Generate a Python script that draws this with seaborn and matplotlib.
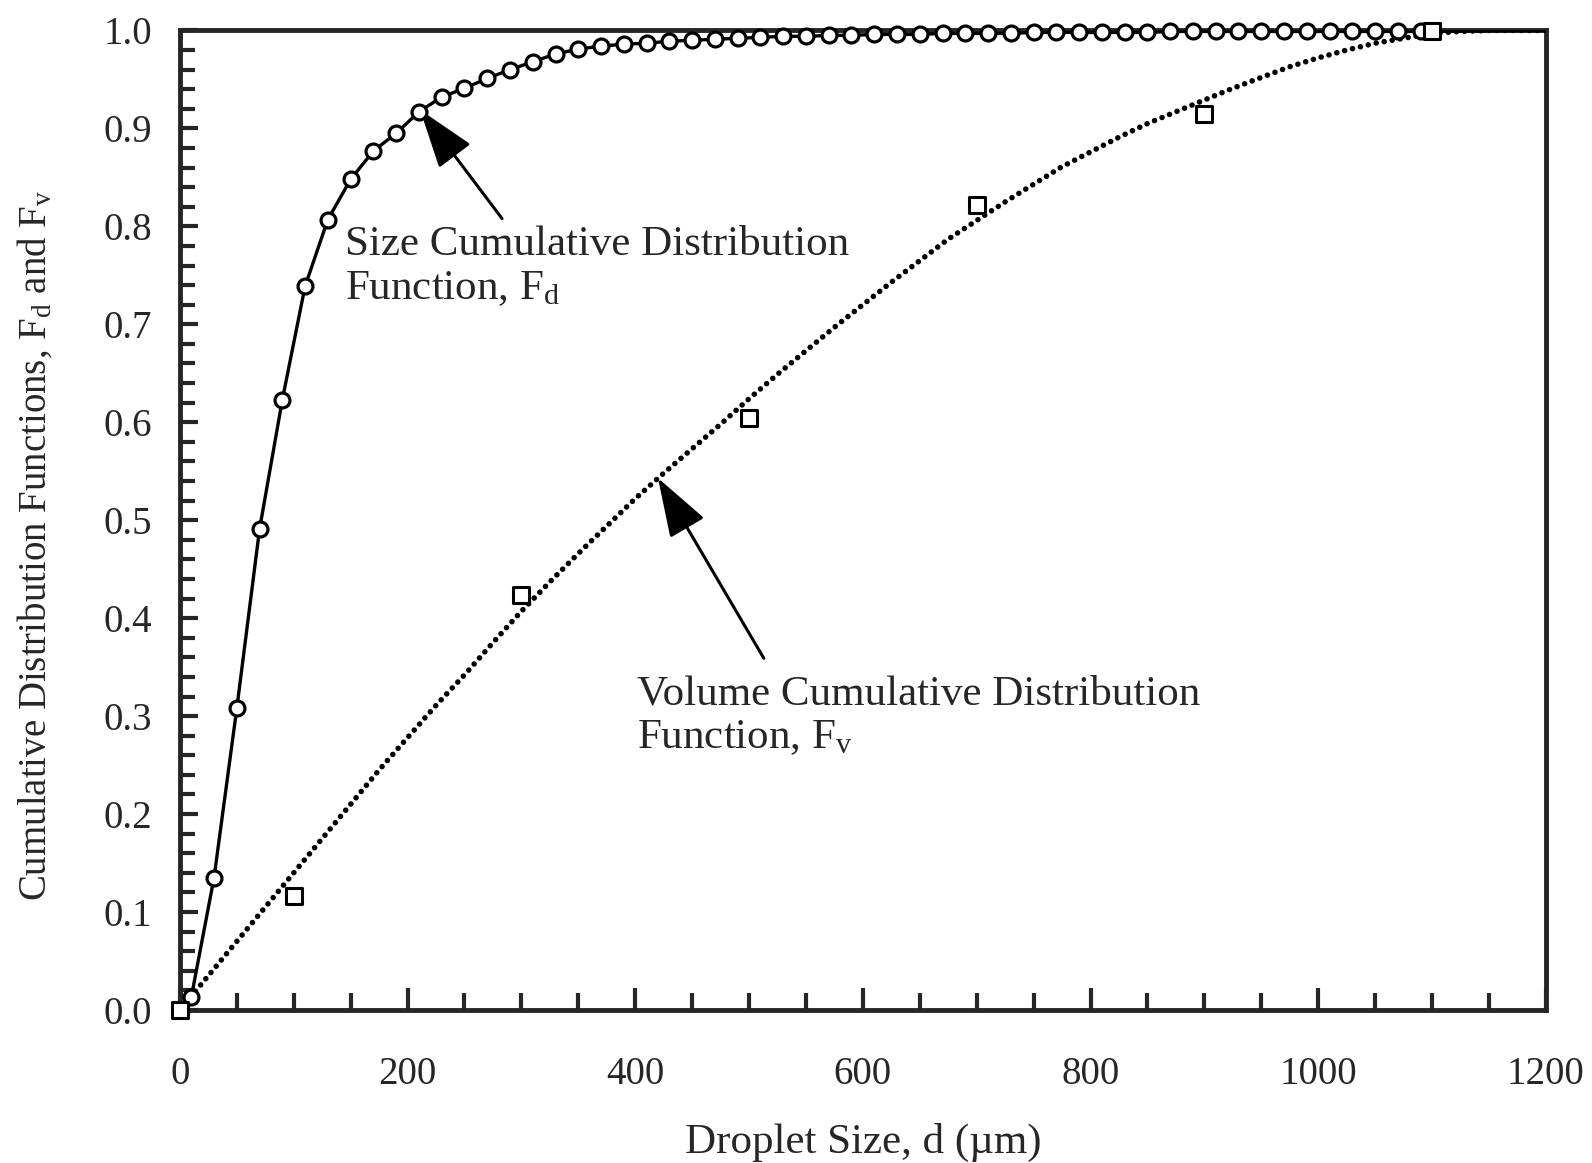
import matplotlib
matplotlib.use("Agg")
import matplotlib.pyplot as plt
import numpy as np
import pandas as pd
import seaborn as sns
from matplotlib.ticker import MultipleLocator

# size cumulative distribution, open circles every 20 um
fd_x = [10, 30, 50, 70, 90, 110, 130, 150, 170, 190, 210, 230, 250, 270, 290,
        310, 330, 350, 370, 390, 410, 430, 450, 470, 490, 510, 530, 550, 570,
        590, 610, 630, 650, 670, 690, 710, 730, 750, 770, 790, 810, 830, 850,
        870, 890, 910, 930, 950, 970, 990, 1010, 1030, 1050, 1070, 1090]
fd_y = [0.013, 0.135, 0.308, 0.491, 0.623, 0.739, 0.807, 0.848, 0.877, 0.895,
        0.917, 0.932, 0.941, 0.951, 0.960, 0.968, 0.976, 0.981, 0.984, 0.986,
        0.987, 0.989, 0.990, 0.991, 0.992, 0.993, 0.994, 0.994, 0.995, 0.995,
        0.996, 0.996, 0.996, 0.997, 0.997, 0.997, 0.997, 0.998, 0.998, 0.998,
        0.998, 0.998, 0.998, 0.999, 0.999, 0.999, 0.999, 0.999, 0.999, 0.999,
        0.999, 0.999, 0.999, 0.999, 0.999]

# volume cumulative distribution curve (dotted)
fv_x = [0, 25, 50, 75, 100, 125, 150, 175, 200, 225, 250, 275, 300, 325, 350,
        375, 400, 425, 450, 475, 500, 525, 550, 575, 600, 625, 650, 675, 700,
        725, 750, 775, 800, 825, 850, 875, 900, 925, 950, 975, 1000, 1025,
        1050, 1075, 1100, 1125, 1150, 1175, 1200]
fv_y = [0.0, 0.035, 0.070, 0.105, 0.140, 0.175, 0.210, 0.245, 0.278, 0.311,
        0.342, 0.375, 0.407, 0.437, 0.466, 0.494, 0.522, 0.548, 0.573, 0.598,
        0.624, 0.649, 0.673, 0.697, 0.720, 0.743, 0.765, 0.787, 0.806, 0.825,
        0.843, 0.861, 0.876, 0.891, 0.905, 0.917, 0.929, 0.941, 0.952, 0.963,
        0.972, 0.980, 0.987, 0.992, 0.997, 0.999, 1.0, 1.0, 1.0]

# measured volume points (open squares)
sq_x = [0, 100, 300, 500, 700, 900, 1100]
sq_y = [0.0, 0.116, 0.424, 0.604, 0.822, 0.915, 0.999]

sns.set_style("ticks")
plt.rcParams['font.family'] = ['Liberation Serif', 'DejaVu Serif']
plt.rcParams['mathtext.fontset'] = 'custom'
plt.rcParams['mathtext.rm'] = 'Liberation Serif'
plt.rcParams['mathtext.it'] = 'Liberation Serif:italic'

fig = plt.figure(figsize=(15.92, 11.63), dpi=100)
ax = fig.add_axes([0.113, 0.1316, 0.858, 0.8422])

fd_line = pd.DataFrame({"d": [0] + fd_x + [1200], "F": [0.0] + fd_y + [1.0]})
sns.lineplot(data=fd_line, x="d", y="F", ax=ax, color="black", lw=2.4,
             zorder=3)
sns.lineplot(x=fv_x, y=fv_y, ax=ax, color="black", lw=4.0, zorder=3)
fv_line = ax.lines[-1]
fv_line.set_linestyle((0, (0.01, 1.45)))
fv_line.set_dash_capstyle("round")

sns.scatterplot(x=fd_x, y=fd_y, ax=ax, marker="o", s=115, facecolor="white",
                edgecolor="black", linewidth=2.3, zorder=4, clip_on=False)
sns.scatterplot(x=sq_x, y=sq_y, ax=ax, marker="s", s=135, facecolor="white",
                edgecolor="black", linewidth=2.2, zorder=5, clip_on=False)

ax.set_xlim(0, 1200)
ax.set_ylim(0, 1.0)
ax.xaxis.set_major_locator(MultipleLocator(200))
ax.xaxis.set_minor_locator(MultipleLocator(50))
ax.yaxis.set_major_locator(MultipleLocator(0.1))
ax.yaxis.set_minor_locator(MultipleLocator(0.02))
ax.yaxis.set_major_formatter(plt.FormatStrFormatter("%.1f"))

ax.tick_params(axis="both", which="both", direction="in", top=False,
               right=False, width=3, labelsize=28)
ax.tick_params(axis="x", which="major", length=16, pad=33)
ax.tick_params(axis="x", which="minor", length=12)
ax.tick_params(axis="y", which="major", length=13, pad=20)
ax.tick_params(axis="y", which="minor", length=11)
for sp in ax.spines.values():
    sp.set_linewidth(3.5)
    sp.set_visible(True)

ax.set_xlabel("Droplet Size, d (\u00b5m)", fontsize=31, labelpad=22)
ax.set_ylabel(r"Cumulative Distribution Functions, F$_\mathrm{d}$ and F$_\mathrm{v}$",
              fontsize=28)
ax.yaxis.set_label_coords(-0.092, 0.474)

arrow = dict(arrowstyle="-|>,head_length=3.7,head_width=1.25", color="black",
             lw=2.2, shrinkA=0, shrinkB=0, mutation_scale=10)
ax.annotate("", xy=(211, 0.919), xytext=(283, 0.808), arrowprops=arrow)
ax.annotate("", xy=(420, 0.543), xytext=(513, 0.359), arrowprops=arrow)

ax.text(145, 0.759, "Size Cumulative Distribution\nFunction, F$_\\mathrm{d}$",
        fontsize=31, va="center", ha="left", linespacing=1.18)
ax.text(402, 0.300, "Volume Cumulative Distribution\nFunction, F$_\\mathrm{v}$",
        fontsize=31, va="center", ha="left", linespacing=1.18)

fig.savefig("out.png", dpi=100)
